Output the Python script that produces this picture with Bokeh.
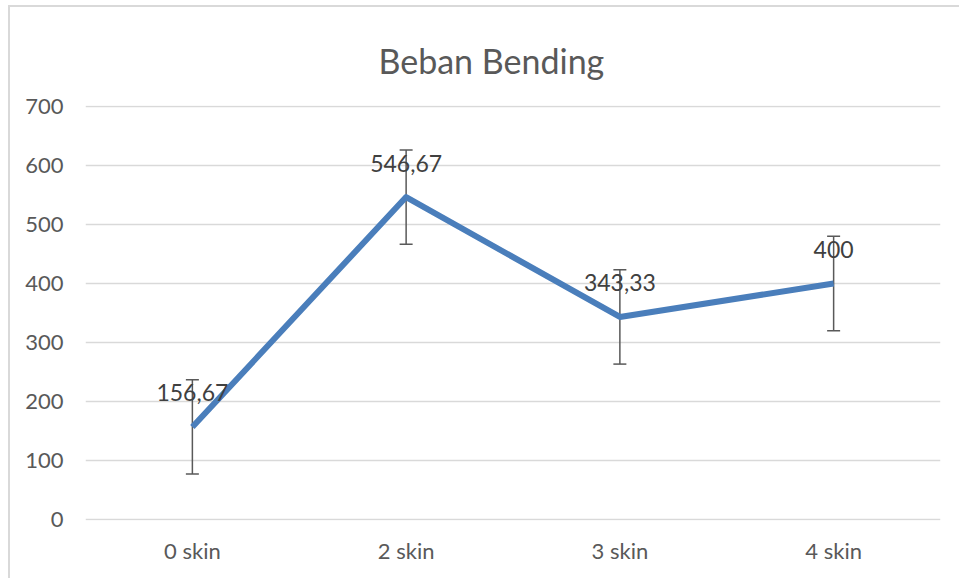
from bokeh.plotting import figure
from bokeh.models import ColumnDataSource, Whisker, TeeHead, Range1d, FixedTicker
from bokeh.core.properties import value
from bokeh.embed import file_html
from bokeh.resources import INLINE

categories = ["0 skin", "2 skin", "3 skin", "4 skin"]
values = [156.67, 546.67, 343.33, 400.0]
errors = [80.0, 80.0, 80.0, 80.0]
value_labels = ["156,67", "546,67", "343,33", "400"]
y_ticks = [0, 100, 200, 300, 400, 500, 600, 700]

FONT = "Lato"

source = ColumnDataSource(dict(
    x=categories,
    y=values,
    upper=[v + e for v, e in zip(values, errors)],
    lower=[v - e for v, e in zip(values, errors)],
    label=value_labels,
))

p = figure(x_range=categories, y_range=Range1d(-2, 702),
           width=959, height=578, output_backend="svg", toolbar_location=None,
           min_border_left=85, min_border_right=19, min_border_top=105, min_border_bottom=58)

p.title.text = "Beban Bending"
p.title.align = "left"
p.title.text_font = FONT
p.title.text_font_size = "34px"
p.title.text_font_style = "normal"
p.title.text_color = "#595959"
p.title.offset = 293
p.title.standoff = 50

p.border_fill_color = None
p.background_fill_color = "white"
p.styles = {"background": "linear-gradient(#d9d9d9,#d9d9d9) 8px 5px / 2px 573px no-repeat, "
                          "linear-gradient(#d9d9d9,#d9d9d9) 8px 5px / 951px 2px no-repeat, white"}

p.outline_line_color = None
p.xgrid.grid_line_color = None
p.ygrid.grid_line_color = "#d9d9d9"
p.ygrid.grid_line_width = 1.5
p.ygrid.ticker = FixedTicker(ticks=y_ticks)

p.yaxis.ticker = FixedTicker(ticks=y_ticks)
for ax in (p.xaxis, p.yaxis):
    ax.axis_line_color = None
    ax.major_tick_line_color = None
    ax.minor_tick_line_color = None
    ax.major_label_text_font = FONT
    ax.major_label_text_font_size = "22px"
    ax.major_label_text_color = "#595959"
p.yaxis.major_label_standoff = 16
p.xaxis.major_label_standoff = 10

p.line("x", "y", source=source, line_color="#4a7ebb", line_width=6, line_join="round")

head_u = TeeHead(size=13, line_color="#595959", line_width=1.5)
head_l = TeeHead(size=13, line_color="#595959", line_width=1.5)
p.add_layout(Whisker(base="x", upper="upper", lower="lower", source=source,
                     dimension="height", line_color="#595959", line_width=1.5,
                     upper_head=head_u, lower_head=head_l))

p.text("x", "y", text="label", source=source, text_align="center",
       text_baseline="alphabetic", y_offset=-34, text_font=value(FONT),
       text_font_size="23px", text_color="#404040")

open("out.html", "w").write(file_html(p, INLINE))
